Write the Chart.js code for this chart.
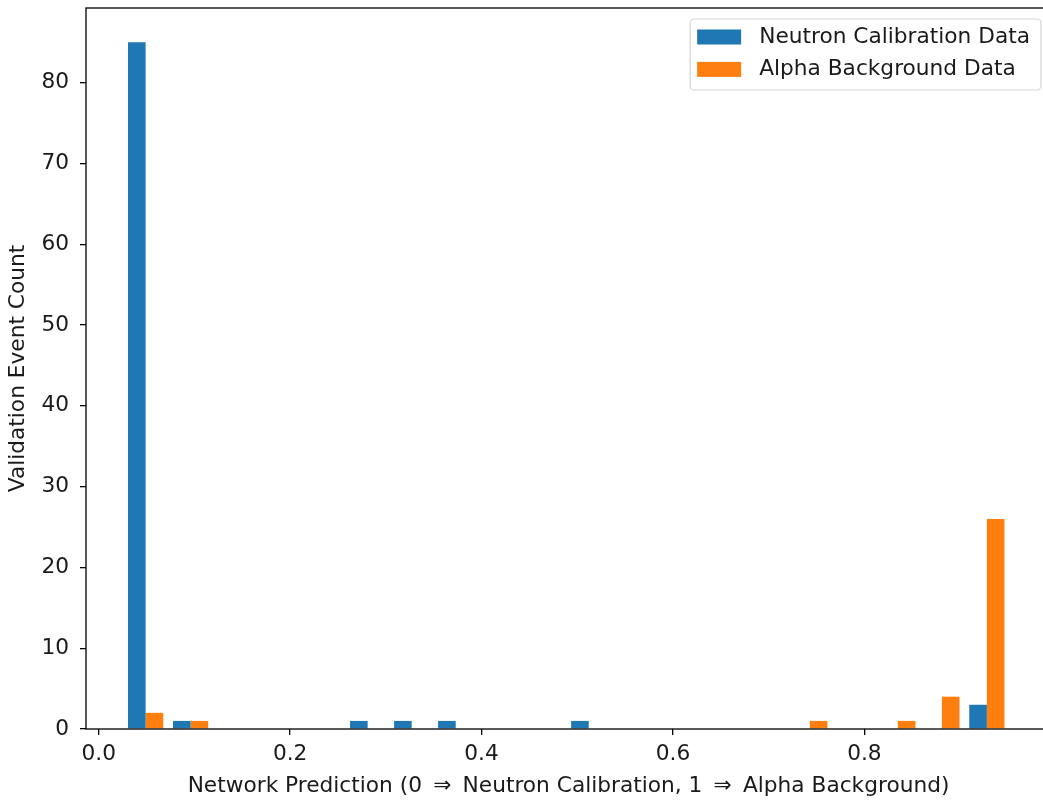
<!DOCTYPE html>
<html>
<head>
<meta charset="utf-8">
<script src="https://cdn.jsdelivr.net/npm/chart.js"></script>
<style>
html, body {
  margin: 0;
  padding: 0;
  overflow: hidden;
  background: #fff;
}
#chart {
  display: block;
}
</style>
</head>
<body>

<canvas id="chart" width="1051" height="801"></canvas>

<script>

// ==========================
// data
// ==========================

const binCenters = [0.049, 0.096, 0.142, 0.188, 0.234, 0.281, 0.327, 0.373, 0.419, 0.465,
                    0.512, 0.558, 0.604, 0.650, 0.697, 0.743, 0.789, 0.835, 0.881, 0.928];

const neutronCounts = [85, 1, 0, 0, 0, 1, 1, 1, 0, 0, 1, 0, 0, 0, 0, 0, 0, 0, 0, 3];
const alphaCounts   = [2, 1, 0, 0, 0, 0, 0, 0, 0, 0, 0, 0, 0, 0, 0, 1, 0, 1, 4, 26];

const seriesLabels = ["Neutron Calibration Data", "Alpha Background Data"];
const seriesColors = ["#1f77b4", "#ff7f0e"];

const xTicks = [0.0, 0.2, 0.4, 0.6, 0.8];
const yTicks = [0, 10, 20, 30, 40, 50, 60, 70, 80];

const xTitle = "Network Prediction (0 \u2009\u21D2\u2009 Neutron Calibration, 1 \u2009\u21D2\u2009 Alpha Background)";
const yTitle = "Validation Event Count";

const FONT_SIZE = 21.7;


// ==========================
// plugins: axes frame + legend box
// ==========================

const frame = {
  id: "frame",
  afterDatasetsDraw(chart) {
    const { ctx, chartArea: a } = chart;
    ctx.save();
    ctx.strokeStyle = "#000";
    ctx.lineWidth = 1.3;
    ctx.strokeRect(a.left, a.top, a.right - a.left, a.bottom - a.top);
    ctx.restore();
  }
};

const legendBox = {
  id: "legendBox",
  afterDraw(chart) {
    const { ctx, chartArea: a } = chart;
    const sets = chart.data.datasets;

    ctx.save();
    ctx.font = FONT_SIZE + "px 'DejaVu Sans'";

    const textW = Math.max(...sets.map(d => ctx.measureText(d.label).width));
    const w = 7 + 44 + 18 + textW + 11;
    const h = 71;
    const x = a.right - 10 - w;
    const y = a.top + 11;

    ctx.beginPath();
    ctx.roundRect(x, y, w, h, 4);
    ctx.fillStyle = "rgba(255,255,255,0.8)";
    ctx.fill();
    ctx.strokeStyle = "#d6d6d6";
    ctx.lineWidth = 1.2;
    ctx.stroke();

    sets.forEach((d, i) => {
      const cy = y + 18 + i * 32.4;
      ctx.fillStyle = d.backgroundColor;
      ctx.fillRect(x + 7, cy - 7.5, 44, 15);
      ctx.fillStyle = "#1a1a1a";
      ctx.textBaseline = "middle";
      ctx.textAlign = "left";
      ctx.fillText(d.label, x + 7 + 44 + 18, cy);
    });

    ctx.restore();
  }
};


// ==========================
// chart
// ==========================

Chart.defaults.font.family = "'DejaVu Sans', sans-serif";
Chart.defaults.font.size = FONT_SIZE;
Chart.defaults.color = "#1a1a1a";

const tickGrid = {
  drawOnChartArea: false,
  drawTicks: true,
  tickLength: 6,
  color: "#000",
  lineWidth: 1.3,
  offset: false
};

new Chart(document.getElementById("chart"), {

  type: "bar",

  data: {
    datasets: [
      {
        label: seriesLabels[0],
        data: binCenters.map((x, i) => ({ x: x, y: neutronCounts[i] })),
        backgroundColor: seriesColors[0],
        borderWidth: 0
      },
      {
        label: seriesLabels[1],
        data: binCenters.map((x, i) => ({ x: x, y: alphaCounts[i] })),
        backgroundColor: seriesColors[1],
        borderWidth: 0
      }
    ]
  },

  options: {
    responsive: false,
    animation: false,
    categoryPercentage: 0.8,
    barPercentage: 1.0,
    layout: {
      padding: { top: 8, right: 0, bottom: 0, left: 0 }
    },
    plugins: {
      legend: { display: false },
      tooltip: { enabled: false }
    },
    scales: {
      x: {
        type: "linear",
        offset: false,
        min: -0.0133,
        max: 0.995,
        grid: tickGrid,
        border: { display: false },
        afterBuildTicks: s => { s.ticks = xTicks.map(v => ({ value: v })); },
        afterFit: s => {
          s.height = 72;
          s.paddingLeft = 0;
          s.paddingRight = 0;
        },
        ticks: {
          padding: 6,
          maxRotation: 0,
          callback: v => Number(v).toFixed(1)
        },
        title: {
          display: true,
          text: xTitle,
          padding: { top: 0, bottom: 2 }
        }
      },
      y: {
        min: 0,
        max: 89.25,
        grid: tickGrid,
        border: { display: false },
        afterBuildTicks: s => { s.ticks = yTicks.map(v => ({ value: v })); },
        afterFit: s => {
          s.width = 86;
          s.paddingTop = 0;
          s.paddingBottom = 0;
        },
        ticks: {
          padding: 11,
          callback: v => String(v)
        },
        title: {
          display: true,
          text: yTitle,
          padding: { top: 5.5, bottom: 0 }
        }
      }
    }
  },

  plugins: [frame, legendBox]

});

</script>

</body>
</html>
